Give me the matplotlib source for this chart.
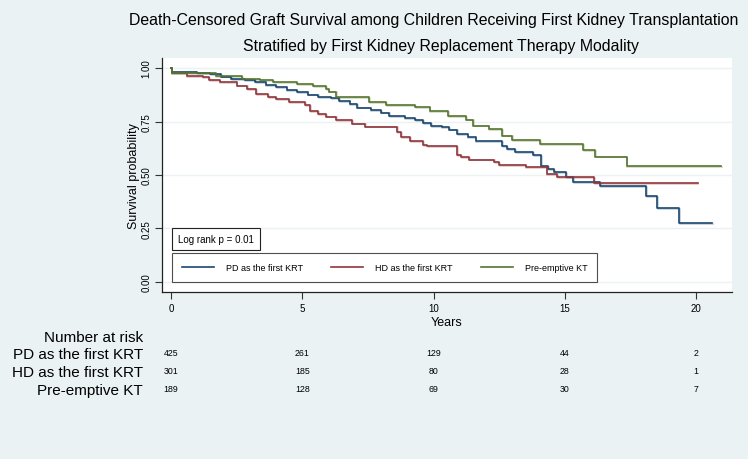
import matplotlib.pyplot as plt
import matplotlib.transforms as mtransforms
import numpy as np

plt.rcParams['font.family'] = ['Liberation Sans', 'DejaVu Sans']

# Kaplan-Meier step data (years, survival)
pd_t = [0, 0.03, 1.0, 1.5, 1.9, 2.3, 2.8, 3.2, 3.6, 4.0, 4.4, 4.8, 5.2, 5.6, 6.1, 6.4,
        6.8, 7.1, 7.6, 8.0, 8.3, 8.9, 9.3, 9.6, 9.9, 10.3, 10.6, 10.9, 11.3, 11.6,
        12.6, 12.8, 13.1, 13.8, 14.1, 14.35, 14.6, 15.05, 15.3, 16.35, 18.1, 18.5,
        19.35, 20.6]
pd_s = [1.0, 0.983, 0.977, 0.970, 0.960, 0.950, 0.943, 0.933, 0.922, 0.912, 0.898,
        0.886, 0.876, 0.866, 0.860, 0.847, 0.830, 0.815, 0.805, 0.792, 0.777, 0.768,
        0.755, 0.743, 0.730, 0.723, 0.712, 0.692, 0.676, 0.660, 0.637, 0.621, 0.606,
        0.593, 0.541, 0.528, 0.515, 0.489, 0.466, 0.447, 0.403, 0.344, 0.276, 0.276]

hd_t = [0, 0.03, 0.6, 1.2, 1.45, 1.85, 2.5, 2.9, 3.25, 3.7, 4.0, 4.5, 5.1, 5.3, 5.6,
        5.9, 6.3, 6.9, 7.4, 8.6, 8.75, 9.1, 9.6, 9.75, 10.9, 11.05, 11.35, 12.3, 12.5,
        13.5, 14.3, 14.7, 16.1, 20.05]
hd_s = [1.0, 0.975, 0.964, 0.956, 0.945, 0.934, 0.918, 0.900, 0.878, 0.865, 0.853,
        0.840, 0.826, 0.800, 0.785, 0.773, 0.756, 0.740, 0.726, 0.700, 0.676, 0.660,
        0.640, 0.634, 0.593, 0.583, 0.572, 0.559, 0.547, 0.536, 0.505, 0.489, 0.463,
        0.463]

pe_t = [0, 0.03, 1.7, 2.7, 3.4, 3.9, 4.8, 5.4, 5.9, 6.0, 6.3, 7.55, 8.2, 9.3, 9.85,
        10.55, 11.25, 11.5, 12.1, 12.6, 13.0, 14.05, 15.7, 16.14, 17.35, 20.96]
pe_s = [1.0, 0.975, 0.964, 0.950, 0.942, 0.934, 0.926, 0.915, 0.903, 0.890, 0.866,
        0.840, 0.827, 0.816, 0.800, 0.777, 0.759, 0.731, 0.715, 0.684, 0.665, 0.645,
        0.618, 0.586, 0.541, 0.541]

groups = ['PD as the first KRT', 'HD as the first KRT', 'Pre-emptive KT']
colors = ['#1A476F', '#90353B', '#55752F']

# number at risk
risk_times = [0, 5, 10, 15, 20]
risk_pd = [425, 261, 129, 44, 2]
risk_hd = [301, 185, 80, 28, 1]
risk_pe = [189, 128, 69, 30, 7]

bg = '#EAF2F3'
fig = plt.figure(figsize=(7.48, 4.6), dpi=100, facecolor=bg)
ax = fig.add_axes([161.7/748, 1-293/460, (732-161.7)/748, (293-59)/460])
ax.set_facecolor('white')

curves = [(pd_t, pd_s), (hd_t, hd_s), (pe_t, pe_s)]
for (t, s), c, lab in zip(curves, colors, groups):
    # faint offset copy, like the soft edge in the original export
    ax.step(t, s, where='post', color=c, lw=1.3, alpha=0.25, zorder=2,
            transform=ax.transData + mtransforms.ScaledTranslation(0.5/72, -0.6/72, fig.dpi_scale_trans))
    ax.step(t, s, where='post', color=c, lw=1.2, label=lab, zorder=3)

ax.set_xlim(-0.354, 21.36)
ax.set_ylim(-0.047, 1.047)
ax.set_xticks(risk_times)
ax.set_yticks([0, 0.25, 0.5, 0.75, 1.0])
ax.set_yticklabels(['0.00', '0.25', '0.50', '0.75', '1.00'], rotation=90, va='center')
ax.tick_params(axis='both', labelsize=7, length=5, width=0.8, color='#333333')
ax.tick_params(axis='y', pad=2.5)
ax.tick_params(axis='x', pad=3)
ax.grid(axis='y', color=bg, lw=1.0)
ax.set_axisbelow(True)
for side in ['top', 'right']:
    ax.spines[side].set_visible(False)
for side in ['left', 'bottom']:
    ax.spines[side].set_color('#222222')
    ax.spines[side].set_linewidth(0.9)

ax.set_ylabel('Survival probability', fontsize=9, labelpad=1)
ax.set_xlabel('Years', fontsize=9, labelpad=2)

fig.text(434/748, 1-20.5/460, 'Death-Censored Graft Survival among Children Receiving First Kidney Transplantation',
         ha='center', va='center', fontsize=11.4)
fig.text(441/748, 1-46/460, 'Stratified by First Kidney Replacement Therapy Modality',
         ha='center', va='center', fontsize=11.4)

# log rank box
ax.text((178-161.7)/570.3, (293-240.3)/234, 'Log rank p = 0.01', transform=ax.transAxes,
        fontsize=7, ha='left', va='center',
        bbox=dict(boxstyle='square,pad=0.6', fc='white', ec='#222222', lw=0.8))

leg = ax.legend(loc='lower left', bbox_to_anchor=(10/570.3, 9.7/234, 425.6/570.3, 29.3/234),
                mode='expand', ncol=3, fontsize=6.5, frameon=True, fancybox=False,
                edgecolor='#222222', handlelength=3.6, handletextpad=1.3, columnspacing=3.0,
                borderaxespad=0, borderpad=1.1)
leg.get_frame().set_linewidth(0.8)

# number at risk table
trans = mtransforms.blended_transform_factory(ax.transData, fig.transFigure)
fig.text(143/748, 1-337.5/460, 'Number at risk', ha='right', va='center', fontsize=11)
rows_y = [355, 372.7, 390.7]
for lab, y, vals in zip(groups, rows_y, [risk_pd, risk_hd, risk_pe]):
    fig.text(143/748, 1-y/460, lab, ha='right', va='center', fontsize=11)
    for tt, v in zip(risk_times, vals):
        ax.text(tt, 1-(y-1.5)/460, str(v), transform=trans, ha='center', va='center', fontsize=6.3)

fig.savefig('out.png', dpi=100, facecolor=bg)
